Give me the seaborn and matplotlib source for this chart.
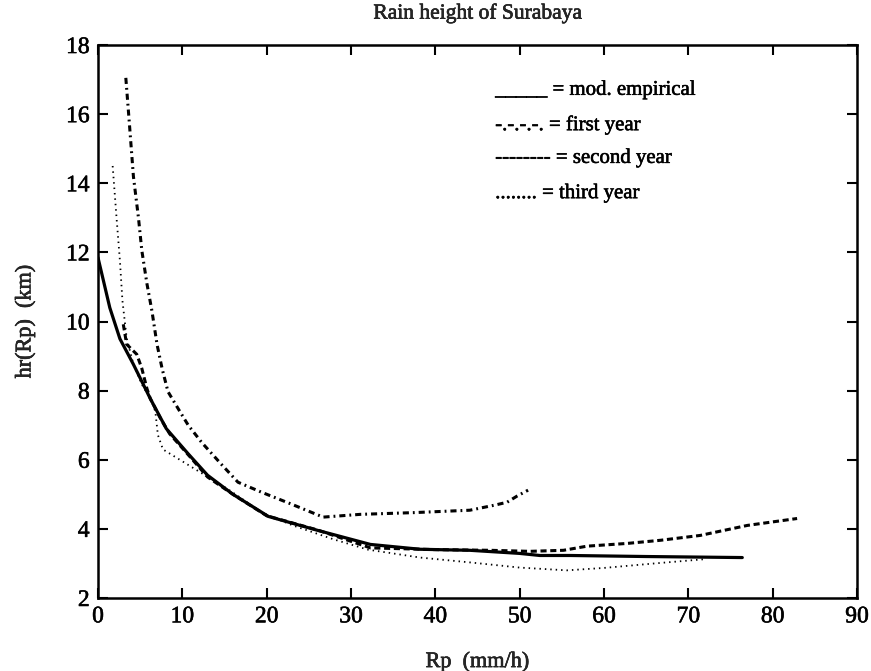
import numpy as np
import pandas as pd
import matplotlib
matplotlib.use("Agg")
import matplotlib.pyplot as plt
import matplotlib.patheffects as pe
import seaborn as sns

# Rain rate Rp (mm/h) and rain height hr(Rp) (km) for each curve
emp_rp = [0, 1.4, 2.6, 4.2, 6.2, 8.1, 10.7, 13.0, 16.0, 20.2, 26.0, 32.3,
          38.2, 44.1, 50.0, 52.4, 56.0, 65.0, 76.4]
emp_hr = [11.85, 10.4, 9.5, 8.76, 7.77, 6.9, 6.17, 5.55, 5.0, 4.36, 3.96, 3.55,
          3.41, 3.38, 3.29, 3.23, 3.23, 3.2, 3.17]

y1_rp = [3.3, 3.7, 4.2, 4.8, 5.2, 5.8, 6.4, 7.0, 7.6, 8.3, 9.7, 10.7, 12.3,
         14.7, 16.6, 19.4, 23.1, 26.7, 31.1, 37.4, 44.1, 47.1, 48.5, 49.7, 51.0]
y1_hr = [17.05, 15.8, 14.2, 13.0, 12.05, 11.1, 10.3, 9.34, 8.64, 7.97, 7.4, 7.0, 6.5,
         5.85, 5.35, 5.06, 4.7, 4.34, 4.42, 4.47, 4.54, 4.69, 4.77, 4.95, 5.12]

y2_rp = [3.0, 3.4, 4.6, 5.2, 5.8, 6.2, 7.4, 8.5, 10.5, 13.0, 16.0, 20.0, 26.0,
         32.3, 40.0, 46.5, 51.2, 55.2, 58.0, 62.8, 66.7, 71.4, 77.0, 82.9]
y2_hr = [9.92, 9.34, 9.05, 8.64, 8.06, 7.77, 7.2, 6.75, 6.2, 5.5, 5.0, 4.38, 3.97,
         3.45, 3.4, 3.38, 3.35, 3.38, 3.5, 3.58, 3.67, 3.81, 4.1, 4.3]

y3_rp = [1.74, 2.2, 2.6, 2.9, 3.4, 4.2, 5.2, 6.2, 6.8, 7.1, 7.7, 11.5, 15.4,
         19.4, 23.1, 27.9, 32.0, 38.2, 44.1, 50.0, 55.6, 60.0, 66.0, 71.8]
y3_hr = [14.5, 13.0, 11.76, 10.6, 9.52, 8.76, 8.18, 7.77, 7.4, 6.72, 6.3, 5.73, 5.15,
         4.48, 4.1, 3.7, 3.4, 3.17, 3.03, 2.88, 2.8, 2.87, 3.0, 3.12]

legend_lines = ["_____ = mod. empirical",
                "-.-.-.-. = first year",
                "-------- = second year",
                "........ = third year"]
legend_hr = [16.69, 15.68, 14.72, 13.70]

x_ticks = list(range(0, 91, 10))
y_ticks = list(range(2, 19, 2))

sns.set_theme(style="ticks")
plt.rcParams["font.family"] = ["Liberation Serif", "DejaVu Serif"]
plt.rcParams["axes.linewidth"] = 1.8

heavy = [pe.withStroke(linewidth=0.4, foreground="black")]

fig = plt.figure(figsize=(8.71, 6.71), dpi=100)
ax = fig.add_axes([0.1125, 0.1088, 0.8714, 0.8241])

styles = [
    (emp_rp, emp_hr, dict(lw=2.3, linestyle="-")),
    (y1_rp, y1_hr, dict(lw=2.2, dashes=(2.0, 1.3, 0.6, 1.3))),
    (y2_rp, y2_hr, dict(lw=2.2, dashes=(2.0, 1.2))),
    (y3_rp, y3_hr, dict(lw=1.3, dashes=(0.8, 2.2))),
]
for rp, hr, kw in styles:
    df = pd.DataFrame({"Rp": rp, "hr": hr})
    sns.lineplot(data=df, x="Rp", y="hr", ax=ax, color="black",
                 sort=False, estimator=None, **kw)

ax.set_xlim(0, 90)
ax.set_ylim(2, 18)
ax.set_xticks(x_ticks)
ax.set_yticks(y_ticks)
ax.tick_params(direction="in", length=7, width=1.5, top=True, right=True,
               labelsize=17, pad=6, colors="black")
for lab in ax.get_xticklabels() + ax.get_yticklabels():
    lab.set_path_effects(heavy)
for s in ax.spines.values():
    s.set_color("black")

ax.set_xlabel("Rp  (mm/h)", fontsize=16, labelpad=18, path_effects=heavy)
ax.set_ylabel("hr(Rp)  (km)", fontsize=16, labelpad=22, path_effects=heavy)
ax.set_title("Rain height of Surabaya", fontsize=15.5, pad=19, path_effects=heavy)

for txt, yv in zip(legend_lines, legend_hr):
    ax.text(47.1, yv, txt, fontsize=15, va="center", ha="left", color="black",
            path_effects=heavy)

fig.savefig("out.png", dpi=100, facecolor="white")
